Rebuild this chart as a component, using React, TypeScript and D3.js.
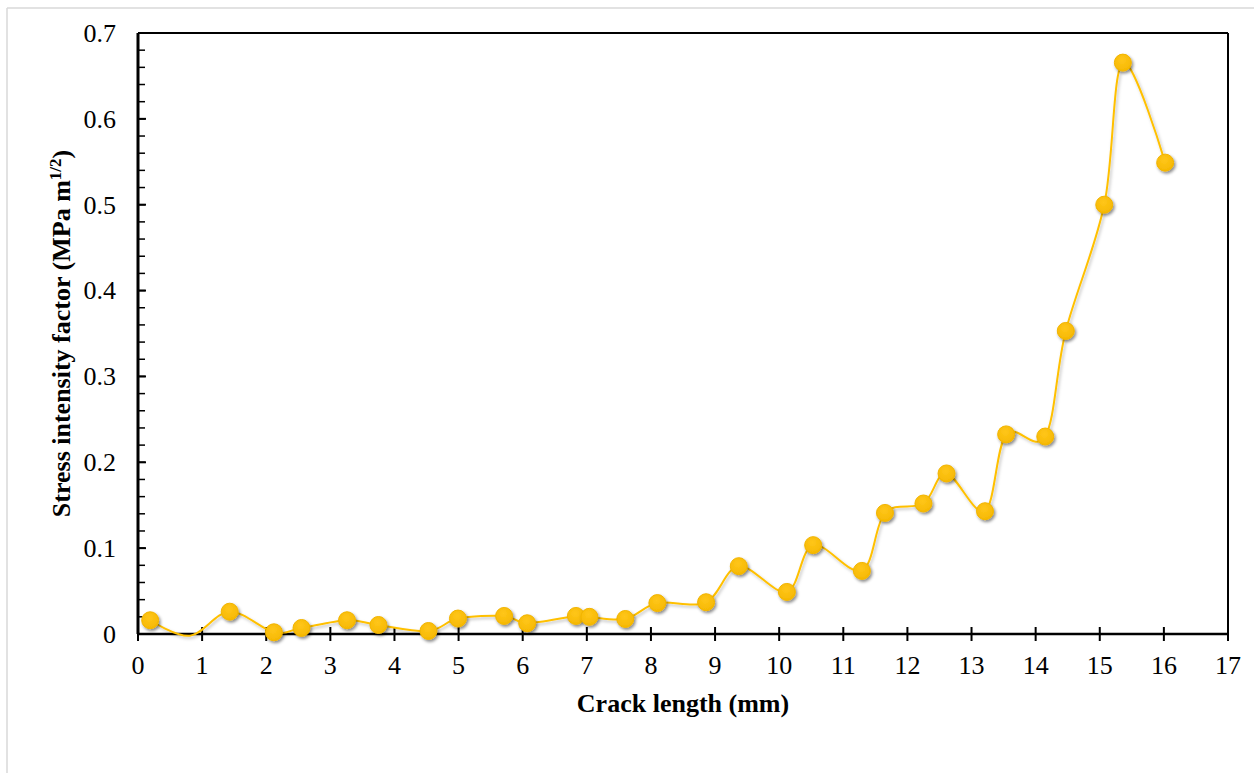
import React from "react";
import * as d3 from "d3";

// Crack length (mm) and stress intensity factor (MPa m^1/2) at each measured point
const crackLength = [
  0.19, 1.43, 2.12, 2.55, 3.26, 3.75, 4.53, 4.99, 5.71, 6.07, 6.83, 7.04, 7.6,
  8.1, 8.86, 9.37, 10.12, 10.53, 11.29, 11.65, 12.25, 12.61, 13.21, 13.54,
  14.15, 14.47, 15.07, 15.36, 16.02,
];
const stressIntensity = [
  0.016, 0.026, 0.002, 0.007, 0.016, 0.0105, 0.0035, 0.018, 0.021, 0.0125,
  0.021, 0.02, 0.0175, 0.036, 0.037, 0.079, 0.049, 0.1035, 0.0735, 0.141,
  0.152, 0.187, 0.143, 0.2325, 0.23, 0.353, 0.5, 0.6655, 0.549,
];
// Unmarked knot of the smoothed line (the trough just above 0.8 mm)
const knotLength = [0.81];
const knotIntensity = [-0.002];

const xTicks = d3.range(0, 18, 1);
const yTicks = [0, 0.1, 0.2, 0.3, 0.4, 0.5, 0.6, 0.7];
const yMinorTicks = d3.range(0, 0.7001, 0.02);

const W = 1254;
const H = 773;
const left = 138;
const right = 1228;
const top = 33;
const bottom = 634;

const FONT = "'Liberation Serif', 'Times New Roman', serif";
const GOLD = "#FFC000";

export default function App() {
  const x = d3.scaleLinear().domain([0, 17]).range([left, right]);
  const y = d3.scaleLinear().domain([0, 0.7]).range([bottom, top]);

  const points = crackLength.map((c, i) => ({ c, k: stressIntensity[i] }));
  const linePts = points
    .concat(knotLength.map((c, i) => ({ c, k: knotIntensity[i] })))
    .sort((a, b) => a.c - b.c);

  const line = d3
    .line<{ c: number; k: number }>()
    .x((d) => x(d.c))
    .y((d) => y(d.k))
    .curve(d3.curveCardinal.tension(0));

  return (
    <svg
      width={W}
      height={H}
      style={{ position: "absolute", left: 0, top: 0, background: "#fff" }}
    >
      <defs>
        <filter id="shadow" x="-50%" y="-50%" width="200%" height="200%">
          <feDropShadow dx="1.5" dy="2" stdDeviation="1.8" floodColor="#000" floodOpacity="0.45" />
        </filter>
        <filter id="lineShadow" x="-5%" y="-5%" width="110%" height="110%">
          <feDropShadow dx="1.5" dy="2" stdDeviation="1.5" floodColor="#000" floodOpacity="0.25" />
        </filter>
        <radialGradient id="markerFill" cx="45%" cy="35%" r="70%">
          <stop offset="0%" stopColor="#FFC61A" />
          <stop offset="100%" stopColor="#F5B700" />
        </radialGradient>
      </defs>

      {/* chart area border */}
      <line x1={7} y1={8} x2={W} y2={8} stroke="#d9d9d9" strokeWidth={1.5} />
      <line x1={7} y1={8} x2={7} y2={H} stroke="#d9d9d9" strokeWidth={1.5} />

      {/* plot frame: top and right */}
      <line x1={left} y1={top} x2={right} y2={top} stroke="#000" strokeWidth={2} />
      <line x1={right} y1={top} x2={right} y2={bottom} stroke="#000" strokeWidth={2} />

      {/* y minor ticks */}
      {yMinorTicks.map((v, i) => (
        <line key={"ym" + i} x1={left} x2={left + 7} y1={y(v)} y2={y(v)} stroke="#000" strokeWidth={1.5} />
      ))}
      {/* y major ticks + labels */}
      {yTicks.map((v) => (
        <g key={"y" + v}>
          <line x1={left} x2={left + 8} y1={y(v)} y2={y(v)} stroke="#000" strokeWidth={2} />
          <text
            x={left - 22}
            y={y(v)}
            dy="0.34em"
            textAnchor="end"
            fontFamily={FONT}
            fontSize={26}
            fill="#000"
          >
            {v === 0 ? "0" : v.toFixed(1)}
          </text>
        </g>
      ))}

      {/* x ticks + labels */}
      {xTicks.map((v) => (
        <g key={"x" + v}>
          <line x1={x(v)} x2={x(v)} y1={bottom - 7} y2={bottom + 7} stroke="#000" strokeWidth={2} />
          <text
            x={x(v)}
            y={674}
            textAnchor="middle"
            fontFamily={FONT}
            fontSize={26}
            fill="#000"
          >
            {v}
          </text>
        </g>
      ))}

      {/* axis lines */}
      <line x1={left} y1={top} x2={left} y2={bottom} stroke="#000" strokeWidth={3} />
      <line x1={left} y1={bottom} x2={right} y2={bottom} stroke="#000" strokeWidth={2.5} />

      {/* series line */}
      <path
        d={line(linePts) ?? ""}
        fill="none"
        stroke={GOLD}
        strokeWidth={2}
        filter="url(#lineShadow)"
      />

      {/* markers */}
      {points.map((p, i) => (
        <circle
          key={"m" + i}
          cx={x(p.c)}
          cy={y(p.k)}
          r={8.5}
          fill="url(#markerFill)"
          stroke="#F2B400"
          strokeWidth={1}
          filter="url(#shadow)"
        />
      ))}

      {/* axis titles */}
      <text
        x={(left + right) / 2}
        y={712}
        textAnchor="middle"
        fontFamily={FONT}
        fontSize={26}
        fontWeight="bold"
        fill="#000"
      >
        Crack length (mm)
      </text>
      <text
        transform={`translate(70, ${(top + bottom) / 2}) rotate(-90)`}
        textAnchor="middle"
        fontFamily={FONT}
        fontSize={26}
        fontWeight="bold"
        fill="#000"
      >
        Stress intensity factor (MPa m
        <tspan baselineShift="super" fontSize={17}>1/2</tspan>)
      </text>
    </svg>
  );
}
